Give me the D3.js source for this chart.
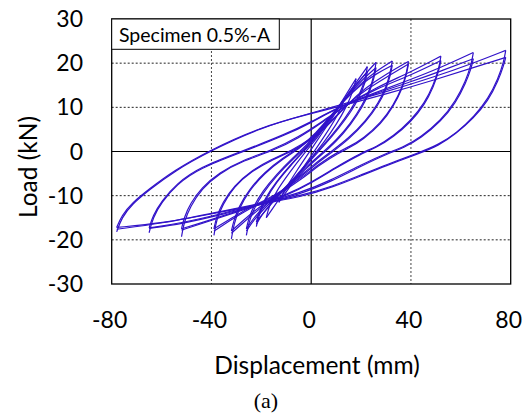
<!DOCTYPE html>
<html>
<head>
<meta charset="utf-8">
<script src="https://cdn.jsdelivr.net/npm/d3@7"></script>
<style>
  body { margin: 0; background: #fff; }
  svg { display: block; }
  text { font-family: Lato, "Open Sans", sans-serif; fill: #000; }
</style>
</head>
<body>
<svg id="chart" width="529" height="419"></svg>
<script>
"use strict";

// axis ticks
var xTicks = [-80, -40, 0, 40, 80];
var yTicks = [-30, -20, -10, 0, 10, 20, 30];

// loading branches (from negative peak to positive peak), [disp mm, load kN]
var loadingBranches = [
  // 13 mm
  [[-13,-11.5],[-11,-9],[-6,-4.5],[0,0.5],[6,5.5],[13,11.5]],
  // 18 mm
  [[-18,-15],[-17,-12.5],[-14,-9],[-9,-5],[-3,-0.5],[3,3.5],[8,7.5],[13,12],[18,16.5]],
  // 22 mm
  [[-22,-17],[-21,-14.5],[-18.5,-11],[-14,-7],[-8,-3],[-3,0],[3,3.8],[9,8.5],[14,12.5],[18.5,16],[22.5,19.2]],
  [[-22,-16],[-21,-13.8],[-18.5,-10.6],[-14,-6.8],[-8,-2.8],[-3,0.2],[3,4],[9,8.6],[14,12.4],[18.5,15.5],[22.5,18]],
  // 26 mm
  [[-26,-19],[-25,-16],[-23,-13],[-19.5,-9.5],[-14,-5.5],[-7,-1.5],[-2,1],[4,5],[10,9.5],[15,13],[20,16.5],[26,20.2]],
  [[-26,-17.5],[-25,-15],[-23,-12.3],[-19.5,-9],[-14,-5.2],[-7,-1.2],[-2,1.3],[4,5.3],[10,9.6],[15,12.8],[20,16],[26,19]],
  // 32 mm
  [[-32,-19.8],[-31,-16.5],[-29,-13],[-25,-9],[-19,-5],[-11,-1.5],[-5,0.5],[2,4],[8,8],[14,12],[20,15.5],[26,18.2],[32.5,20.5]],
  [[-32,-18],[-31,-15.5],[-29,-12.5],[-25,-8.7],[-19,-4.8],[-11,-1.3],[-5,0.7],[2,4.2],[8,8.2],[14,12],[20,15.2],[26,17.6],[32.5,19.5]],
  // 39 mm
  [[-39,-19],[-38,-15.5],[-35.5,-12],[-31,-8],[-24,-4.5],[-16,-2],[-8,0],[0,2.5],[8,6.5],[15,11],[22,14.5],[30,17.5],[39,20.4]],
  [[-39,-17.5],[-38,-14.8],[-35.5,-11.5],[-31,-7.8],[-24,-4.3],[-16,-1.8],[-8,0.2],[0,2.8],[8,6.8],[15,11],[22,14],[30,16.8],[39,19.8]],
  // 52 mm
  [[-52,-19.3],[-51,-16],[-48.5,-12.5],[-44,-8.5],[-37,-5],[-27,-2],[-16,0],[-5,3],[5,6.8],[14,10.5],[26,14.5],[40,18],[52,21.6]],
  [[-52,-17.5],[-51,-15],[-48.5,-11.8],[-44,-8.2],[-37,-4.8],[-27,-1.8],[-16,0.2],[-5,3.3],[5,7],[14,10.6],[26,14.2],[40,17.3],[52,20.6]],
  // 65 mm
  [[-65,-18.4],[-63.5,-15],[-60,-11.5],[-54,-7.5],[-45,-3.8],[-27,0],[-10,3.8],[0,6.5],[10,9.8],[25,13.2],[40,16.3],[52,19],[65,22.4]],
  [[-65,-17.3],[-63.5,-14.5],[-60,-11.2],[-54,-7.3],[-45,-3.6],[-27,0.2],[-10,4],[0,6.7],[10,9.8],[25,13],[40,15.8],[52,18.2],[65,21]],
  // 78 mm
  [[-78,-18.2],[-76,-15],[-72,-12],[-65,-8.7],[-55,-4.5],[-41,0],[-20,5.5],[0,8.7],[10,10.3],[30,13.5],[50,17],[65,20],[78,22.9]],
  [[-78,-17.2],[-76,-14.5],[-72,-11.7],[-65,-8.5],[-55,-4.3],[-41,0.2],[-20,5.6],[0,8.6],[10,10],[30,13],[50,16.3],[65,19],[78,21.3]]
];

// unloading branches (from positive peak back to negative peak)
var unloadingBranches = [
  [[13,11.5],[11,8.5],[6,4],[0,-1],[-6,-6],[-13,-11.5]],
  [[18,16.5],[17,14],[14.5,10.5],[10,6],[5,2],[0,-1.5],[-5,-5],[-10,-8.5],[-15,-12.5],[-18,-15]],
  [[22.5,19.2],[21.8,16.5],[19.5,13],[16,9.5],[11,5.5],[5,1.5],[0,-1.5],[-6,-5.5],[-12,-9],[-17,-12.3],[-20,-14.5],[-22,-16.5]],
  [[22.5,18],[21.8,15.8],[19.5,12.5],[16,9],[11,5.2],[5,1.2],[0,-1.8],[-6,-5.8],[-12,-9.3],[-17,-12.5],[-20,-14.5],[-22,-16]],
  [[26,20.2],[25.3,17.5],[23.5,14],[20.5,10.5],[16,6.5],[10,2.5],[4,-0.5],[-2,-3.5],[-8,-7],[-14,-10],[-19,-12.5],[-23,-15],[-26,-17.5]],
  [[26,19],[25.3,16.8],[23.5,13.5],[20.5,10],[16,6.2],[10,2.2],[4,-0.8],[-2,-3.8],[-8,-7.3],[-14,-10.3],[-19,-13],[-23,-15.5],[-26,-18]],
  [[32.5,20.5],[31.8,18],[30,14.5],[27,11],[22,7],[15,3],[8,0],[2,-2.5],[-5,-5.8],[-12,-9],[-18,-11.5],[-23,-13.5],[-28,-16],[-32,-18]],
  [[32.5,19.5],[31.8,17.3],[30,14],[27,10.6],[22,6.7],[15,2.7],[8,-0.3],[2,-2.8],[-5,-6.1],[-12,-9.3],[-18,-11.8],[-23,-14],[-28,-16.5],[-32,-18.5]],
  [[39,20.4],[38.3,18],[36.5,14.5],[33,10.5],[28,6.5],[21,3],[15,1],[11,0],[4,-2.5],[-4,-6],[-12,-9],[-19,-11.2],[-26,-13],[-33,-15.5],[-39,-17.5]],
  [[39,19.8],[38.3,17.6],[36.5,14.2],[33,10.2],[28,6.2],[21,2.8],[15,0.7],[11,-0.3],[4,-2.8],[-4,-6.3],[-12,-9.3],[-19,-11.4],[-26,-13.3],[-33,-15.8],[-39,-18]],
  [[52,21.6],[51.3,19],[49,15],[45.5,11],[40,7],[33,3.5],[26,1],[20,-0.3],[10,-3.5],[0,-7],[-10,-9.8],[-18,-11.3],[-30,-13.5],[-42,-15.8],[-52,-17.5]],
  [[52,20.6],[51.3,18.5],[49,14.5],[45.5,10.6],[40,6.7],[33,3.3],[26,0.8],[20,-0.5],[10,-3.7],[0,-7.2],[-10,-10],[-18,-11.5],[-30,-13.7],[-42,-16],[-52,-17.8]],
  [[65,22.4],[64.3,20],[62,16],[58,11.5],[52,7],[44,3.3],[37,1],[31,-0.2],[20,-3],[8,-6.5],[-5,-9.5],[-18,-11.4],[-35,-14],[-52,-16.2],[-65,-17.3]],
  [[65,21],[64.3,19],[62,15.5],[58,11],[52,6.8],[44,3],[37,0.8],[31,-0.4],[20,-3.3],[8,-6.8],[-5,-9.8],[-18,-11.6],[-35,-14.2],[-52,-16.4],[-65,-17.4]],
  [[78,22.9],[77.3,20.5],[75,16.5],[71,12],[65.5,8],[58.5,4.3],[51,1.5],[43,-0.3],[30,-3],[20,-5.3],[9,-7.8],[-4,-10],[-18,-11.5],[-40,-14],[-60,-16.3],[-78,-17.6]],
  [[78,21.3],[77.2,19.5],[75,16],[71,11.5],[65,7.5],[58,4],[51,1.3],[43,-0.5],[30,-3.2],[20,-5.5],[9,-8],[-4,-10.3],[-18,-11.6],[-40,-14.2],[-60,-16.2],[-78,-17.2]]
];

var legendLabel = "Specimen 0.5%-A";

(function draw() {
  var svg = d3.select('#chart');
  var pLeft = 111.7, pRight = 510.7, pTop = 19, pBottom = 284;

  var x = d3.scaleLinear().domain([-80, 80]).range([pLeft, pRight]);
  var y = d3.scaleLinear().domain([-30, 30]).range([pBottom, pTop]);

  // grid (dotted), zero lines solid
  svg.append('g').selectAll('line').data(xTicks.filter(function(d) { return d !== 0 && Math.abs(d) !== 80; }))
    .enter().append('line')
    .attr('x1', function(d) { return x(d); }).attr('x2', function(d) { return x(d); })
    .attr('y1', pTop).attr('y2', pBottom)
    .attr('stroke', '#444').attr('stroke-width', 1).attr('stroke-dasharray', '2,2');
  svg.append('g').selectAll('line').data(yTicks.filter(function(d) { return d !== 0 && Math.abs(d) !== 30; }))
    .enter().append('line')
    .attr('y1', function(d) { return y(d); }).attr('y2', function(d) { return y(d); })
    .attr('x1', pLeft).attr('x2', pRight)
    .attr('stroke', '#222').attr('stroke-width', 1).attr('stroke-dasharray', '2,2');

  svg.append('line').attr('x1', x(0)).attr('x2', x(0)).attr('y1', pTop).attr('y2', pBottom)
    .attr('stroke', '#000').attr('stroke-width', 1.2);
  svg.append('line').attr('x1', pLeft).attr('x2', pRight).attr('y1', y(0)).attr('y2', y(0))
    .attr('stroke', '#000').attr('stroke-width', 1.2);

  // hysteresis curves
  var line = d3.line()
    .x(function(d) { return x(d[0]); })
    .y(function(d) { return y(d[1]); })
    .curve(d3.curveBasis);

  var curves = svg.append('g');
  loadingBranches.concat(unloadingBranches).forEach(function(branch) {
    curves.append('path').attr('d', line(branch))
      .attr('fill', 'none').attr('stroke', '#3112c9').attr('stroke-width', 1.2);
  });

  // plot border
  svg.append('rect').attr('x', pLeft).attr('y', pTop).attr('width', pRight - pLeft).attr('height', pBottom - pTop)
    .attr('fill', 'none').attr('stroke', '#000').attr('stroke-width', 1.3);

  // legend box
  svg.append('rect').attr('x', pLeft).attr('y', pTop).attr('width', 167.6).attr('height', 30.3)
    .attr('fill', '#fff').attr('stroke', '#000').attr('stroke-width', 1);
  svg.append('text').attr('x', 119).attr('y', 42).style('font-size', '19.5px').text(legendLabel);

  // tick labels
  svg.append('g').selectAll('text').data(yTicks).enter().append('text')
    .attr('x', 83).attr('y', function(d) { return y(d) + 8; })
    .attr('text-anchor', 'end').style('font-size', '23px')
    .text(function(d) { return d; });
  svg.append('g').selectAll('text').data(xTicks).enter().append('text')
    .attr('x', function(d) { return x(d) - 2; }).attr('y', 328)
    .attr('text-anchor', 'middle').style('font-size', '23px')
    .text(function(d) { return d; });

  // axis titles
  svg.append('text').attr('x', 317).attr('y', 374).attr('text-anchor', 'middle')
    .style('font-size', '24.5px').text('Displacement (mm)');
  svg.append('text').attr('transform', 'translate(37,167) rotate(-90)').attr('text-anchor', 'middle')
    .style('font-size', '24.5px').text('Load (kN)');
  svg.append('text').attr('x', 266).attr('y', 408).attr('text-anchor', 'middle')
    .style('font-family', '"Liberation Serif", serif').style('font-size', '22px').text('(a)');
})();
</script>
</body>
</html>
